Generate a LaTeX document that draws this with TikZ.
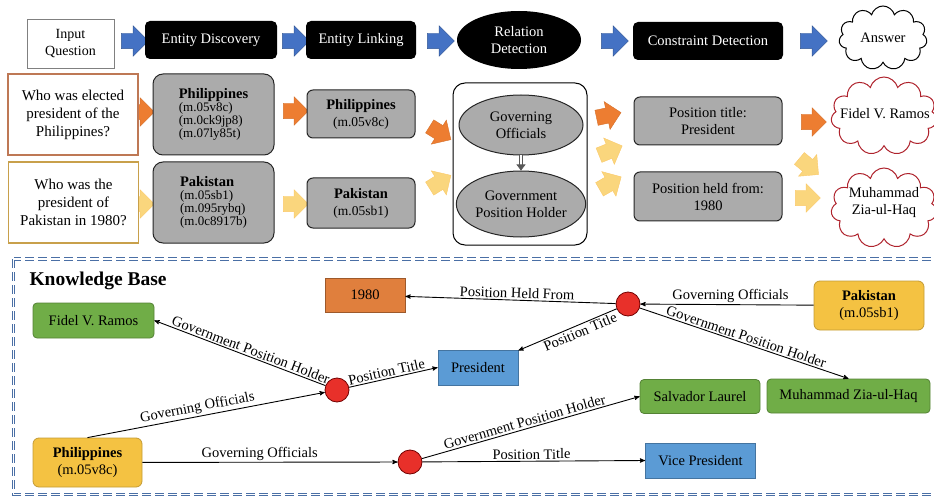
\documentclass[tikz,border=0pt]{standalone}
\usepackage{fontspec}
\setmainfont{Liberation Serif}
\usepackage{tikz}
\usetikzlibrary{arrows,arrows.meta,positioning,shapes.geometric,shapes.arrows,shapes.symbols}

\definecolor{stepblue}{RGB}{68,114,196}
\definecolor{boxgray}{RGB}{171,171,171}
\definecolor{arrorange}{RGB}{237,125,49}
\definecolor{arryellow}{RGB}{250,214,125}
\definecolor{qbrown}{RGB}{190,120,85}
\definecolor{qgold}{RGB}{200,160,75}
\definecolor{cloudred}{RGB}{175,35,45}
\definecolor{kborange}{RGB}{224,127,61}
\definecolor{kbgreen}{RGB}{112,173,71}
\definecolor{kbyellow}{RGB}{244,194,66}
\definecolor{kbblue}{RGB}{91,155,213}
\definecolor{kbred}{RGB}{232,48,42}
\definecolor{kbdash}{RGB}{74,111,165}

\begin{document}
\begin{tikzpicture}[x=1pt,y=-1pt,>=stealth',
  txt/.style={font=\fontsize{14.5}{17}\selectfont},
  flow arrow/.style={single arrow,inner sep=7.5pt,minimum height=27pt,
    single arrow head extend=7.5pt,draw=stepblue!75!black,fill=stepblue},
  hot arrow/.style={single arrow,inner sep=7.5pt,minimum height=25pt,
    single arrow head extend=6.5pt,draw=arrorange!90!black,fill=arrorange},
  warm arrow/.style={single arrow,inner sep=7.5pt,minimum height=25pt,
    single arrow head extend=6.5pt,draw=arryellow!85!orange,fill=arryellow},
  stage node/.style={txt,rectangle,rounded corners=5,fill=black,text=white,
    minimum height=38,inner sep=0},
  question node/.style={font=\fontsize{15}{18}\selectfont,draw,line width=1.2pt,
    fill=white,minimum width=130,minimum height=81,align=center},
  cand node/.style={font=\fontsize{13}{13}\selectfont,draw=black!85,line width=1pt,
    rounded corners=10,fill=boxgray,minimum width=121,minimum height=81,align=left},
  gray node/.style={txt,draw=black!85,line width=1pt,rounded corners=6,
    fill=boxgray,minimum width=108,align=center},
  rel ellipse/.style={txt,ellipse,draw=black!85,line width=1pt,fill=boxgray,
    minimum width=124,align=center,inner sep=0},
  answer cloud/.style={cloud,cloud puffs=11,cloud ignores aspect,draw,line width=1pt,
    fill=white},
  kb box/.style={txt,line width=0.8pt,minimum height=35,align=center,inner sep=2pt},
  hub/.style={circle,fill=kbred,draw=red!45!black,line width=0.8pt,minimum size=24,inner sep=0},
  kb edge/.style={->,line width=0.9pt},
  rel label/.style={txt,sloped,inner sep=1.5pt}]

  \useasboundingbox (0,0) rectangle (934,497);

  % pipeline
  \node[txt,draw=gray,line width=0.8pt,minimum width=87,minimum height=49,align=center,
    font=\fontsize{14}{17}\selectfont] (inq) at (70.5,43.5) {Input\\Question};
  \node[flow arrow] (fa1) at (131,41) {};
  \node[stage node,minimum width=132] (disc) at (211,40) {Entity Discovery};
  \node[flow arrow] (fa2) at (292,41) {};
  \node[stage node,minimum width=110] (link) at (361,40) {Entity Linking};
  \node[flow arrow] (fa3) at (437,41) {};
  \node[txt,ellipse,fill=black,text=white,minimum width=124,minimum height=58,
    align=center,inner sep=0] (reldet) at (519,40) {Relation\\Detection};
  \node[flow arrow] (fa4) at (611,41) {};
  \node[stage node,minimum width=150] (cons) at (708,41) {Constraint Detection};
  \node[flow arrow] (fa5) at (810,41) {};
  \node[answer cloud,minimum width=88,minimum height=64] (ans) at (883,38) {};
  \node[txt] (anstext) at (ans) {Answer};

  % questions and entities
  \node[hot arrow] (ha0) at (138,112) {};
  \node[warm arrow] (wa0) at (138,204) {};
  \node[question node,draw=qbrown] (q1) at (73,114.5)
    {Who was elected\\president of the\\Philippines?};
  \node[question node,draw=qgold] (q2) at (73.5,202.5)
    {Who was the\\president of\\Pakistan in 1980?};
  \node[cand node] (cand1) at (213.5,114.5)
    {{\fontsize{14.5}{16}\selectfont\bfseries Philippines}\\(m.05v8c)\\(m.0ck9jp8)\\(m.07ly85t)};
  \node[cand node] (cand2) at (213.5,202.5)
    {{\fontsize{14.5}{16}\selectfont\bfseries Pakistan}\\(m.05sb1)\\(m.095rybq)\\(m.0c8917b)};
  \node[hot arrow] (ha1) at (292,111) {};
  \node[warm arrow] (wa1) at (292,204) {};
  \node[gray node,minimum height=48] (link1) at (361,114)
    {\textbf{Philippines}\\{\fontsize{13.5}{14}\selectfont(m.05v8c)}};
  \node[gray node,minimum height=50] (link2) at (361,203)
    {\textbf{Pakistan}\\{\fontsize{13.5}{14}\selectfont(m.05sb1)}};
  \node[hot arrow,rotate=-32] (ha2) at (437,131) {};
  \node[warm arrow,rotate=32] (wa2) at (437,184) {};

  % relations
  \node[draw,line width=1pt,rounded corners=12,minimum width=134,minimum height=162]
    (relbox) at (520,164) {};
  \node[rel ellipse,minimum height=60] (gov) at (521,125) {Governing\\Officials};
  \node[rel ellipse,minimum height=66] (gph) at (521,204) {Government\\Position Holder};
  \draw[gray!70!black,line width=0.7pt,double distance=2pt,
    -{Triangle[length=6pt,width=9pt]}] (gov) -- (gph);

  % constraints and answers
  \node[hot arrow,rotate=12] (ha3) at (605,116) {};
  \node[warm arrow,rotate=22] (wa3) at (607,152) {};
  \node[warm arrow,rotate=30] (wa4) at (607,185) {};
  \node[gray node,minimum width=148,minimum height=48] (ptitle) at (708,121)
    {Position title:\\President};
  \node[gray node,minimum width=148,minimum height=49] (pheld) at (708,196.5)
    {Position held from:\\1980};
  \node[hot arrow] (ha4) at (810,122) {};
  \node[warm arrow,rotate=-40] (wa5) at (806,164) {};
  \node[warm arrow] (wa6) at (804,198) {};
  \node[answer cloud,draw=cloudred,minimum width=106,minimum height=78] (ans1) at (884,116) {};
  \node[txt] (ans1text) at (885,114) {Fidel V. Ramos};
  \node[answer cloud,draw=cloudred,minimum width=106,minimum height=80] (ans2) at (884,208) {};
  \node[txt,align=center] (ans2text) at (884,203) {Muhammad\\Zia-ul-Haq};

  % knowledge base
  \draw[kbdash,line width=0.9pt,double=white,double distance=1.8pt,
    dash pattern=on 9pt off 4pt] (13.5,259) rectangle (945,494.5);
  \node[font=\fontsize{19.5}{21}\selectfont\bfseries,anchor=west] (kbtitle) at (26,281)
    {Knowledge Base};

  \node[kb box,draw=kborange!70!black,fill=kborange,minimum width=80,minimum height=34]
    (yr) at (365,295) {1980};
  \node[kb box,draw=kbgreen!75!black,fill=kbgreen,rounded corners=4,minimum width=121]
    (fidel) at (93.5,320.5) {Fidel V. Ramos};
  \node[hub] (hubA) at (628,304) {};
  \node[kb box,draw=kbyellow!80!black,fill=kbyellow,rounded corners=6,minimum width=110,
    minimum height=49] (pak) at (869,305.5) {\textbf{Pakistan}\\(m.05sb1)};
  \node[kb box,draw=kbblue!75!black,fill=kbblue,minimum width=80] (pres) at (478,367.5)
    {President};
  \node[hub] (hubB) at (337,390) {};
  \node[kb box,draw=kbgreen!75!black,fill=kbgreen,rounded corners=4,minimum width=163,
    minimum height=34] (mzh) at (848.5,396) {Muhammad Zia-ul-Haq};
  \node[kb box,draw=kbgreen!75!black,fill=kbgreen,rounded corners=4,minimum width=120,
    minimum height=34] (sal) at (700,396.5) {Salvador Laurel};
  \node[kb box,draw=kbyellow!80!black,fill=kbyellow,rounded corners=6,minimum width=109,
    minimum height=49] (phil) at (87.5,462.5) {\textbf{Philippines}\\(m.05v8c)};
  \node[hub] (hubC) at (410,462) {};
  \node[kb box,draw=kbblue!75!black,fill=kbblue,minimum width=110] (vp) at (700.5,460.5)
    {Vice President};

  \draw[kb edge,<-] (yr) -- node[rel label,above,pos=0.53] {Position Held From} (hubA);
  \draw[kb edge,<-] (hubA) -- node[rel label,above,pos=0.52] {Governing Officials} (pak);
  \draw[kb edge,<-] (pres) -- node[rel label,below,pos=0.6] {Position Title} (hubA);
  \draw[kb edge] (hubA) -- node[rel label,above,pos=0.5] {Government Position Holder} (mzh.north);
  \draw[kb edge,<-] (fidel.east) -- node[rel label,above,pos=0.55] {Government Position Holder} (hubB);
  \draw[kb edge] (hubB) -- node[rel label,above,pos=0.44] {Position Title} (pres.west);
  \draw[kb edge] (phil.north) -- node[rel label,above,pos=0.47] {Governing Officials} (hubB);
  \draw[kb edge] (phil) -- node[rel label,above,pos=0.46] {Governing Officials} (hubC);
  \draw[kb edge] (hubC) -- node[rel label,above,pos=0.48] {Government Position Holder} (sal.west);
  \draw[kb edge] (hubC) -- node[rel label,above,pos=0.49] {Position Title} (vp.west);
\end{tikzpicture}
\end{document}
